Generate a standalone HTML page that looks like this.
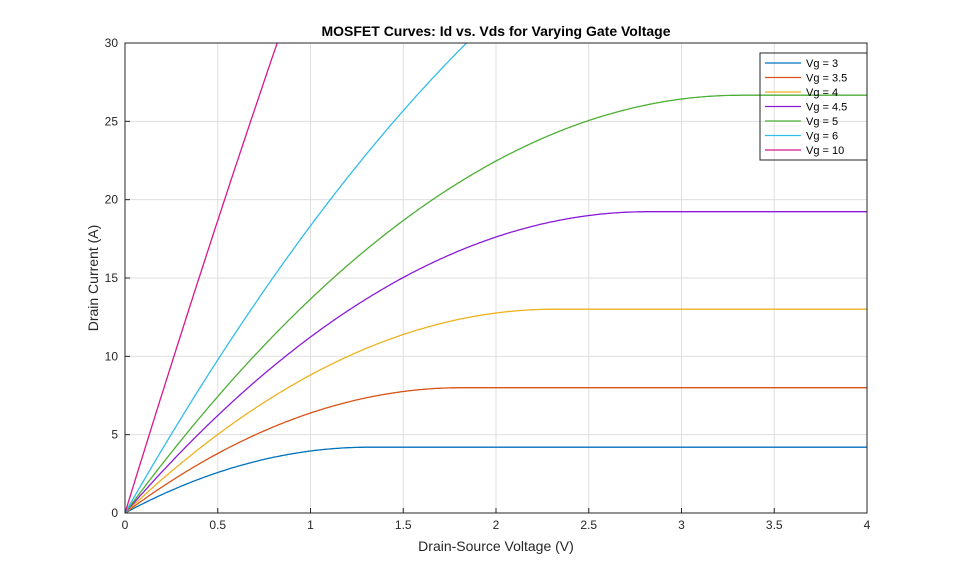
<!DOCTYPE html>
<html><head><meta charset="utf-8"><style>
body{margin:0;background:#fff;}
svg{display:block;font-family:"Liberation Sans",sans-serif;}
</style></head><body>
<svg id="s" width="959" height="577" xmlns="http://www.w3.org/2000/svg">
<rect width="959" height="577" fill="#fff"/>
<g id="grid"></g>
<defs><clipPath id="c"><rect x="125" y="43" width="742" height="470"/></clipPath></defs>
<g id="curves" clip-path="url(#c)"></g>
<rect x="125" y="43" width="742" height="470" fill="none" stroke="#262626" stroke-width="1"/>
<g id="ticks" font-size="12" fill="#262626"></g>
<text x="496" y="36" text-anchor="middle" font-size="14" font-weight="bold" fill="#000">MOSFET Curves: Id vs. Vds for Varying Gate Voltage</text>
<text x="496" y="551" text-anchor="middle" font-size="14" fill="#262626">Drain-Source Voltage (V)</text>
<text transform="translate(98,278) rotate(-90)" text-anchor="middle" font-size="14" fill="#262626">Drain Current (A)</text>
<g id="leg" font-size="11" fill="#000"></g>
</svg>
<script>
var ns="http://www.w3.org/2000/svg";
function el(p,t,a,txt){var e=document.createElementNS(ns,t);for(var k in a)e.setAttribute(k,a[k]);if(txt!==undefined)e.textContent=txt;document.getElementById(p).appendChild(e);return e;}
function X(v){return 125+v*185.5;}function Y(v){return 513-v*470/30;}
for(var i=0;i<=8;i++){var x=X(i*0.5);
 if(i>0&&i<8)el("grid","line",{x1:x,x2:x,y1:43,y2:513,stroke:"#dfdfdf"});
 el("ticks","line",{x1:x,x2:x,y1:513,y2:508,stroke:"#262626"});
 el("ticks","text",{x:x,y:529,"text-anchor":"middle"},String(i*0.5));}
for(var j=0;j<=6;j++){var y=Y(j*5);
 if(j>0&&j<6)el("grid","line",{x1:125,x2:867,y1:y,y2:y,stroke:"#dfdfdf"});
 el("ticks","line",{x1:125,x2:130,y1:y,y2:y,stroke:"#262626"});
 el("ticks","text",{x:118,y:y+4,"text-anchor":"end"},String(j*5));}
var vt=1.684,k=4.85;
var S=[[3,"#0072bd"],[3.5,"#d95319"],[4,"#edb120"],[4.5,"#8b1ad9"],[5,"#4daf35"],[6,"#32bde8"],[10,"#d9168c"]];
S.forEach(function(s,n){var vo=s[0]-vt,pts=[];
 if(s[0]==10)vo=7.95;if(s[0]==6)vo=4.28;
 for(var i=0;i<=400;i++){var v=i*0.01;var id=v<vo?k*(vo*v-v*v/2):k*vo*vo/2;pts.push(X(v).toFixed(1)+","+Y(id).toFixed(1));}
 el("curves","polyline",{points:pts.join(" "),fill:"none",stroke:s[1],"stroke-width":1.3});
 var y=63+n*14.5;
 el("leg","line",{x1:765,x2:801,y1:y,y2:y,stroke:s[1],"stroke-width":1.3});
 el("leg","text",{x:806,y:y+4},"Vg = "+s[0]);});
el("leg","rect",{x:760,y:53,width:107,height:107,fill:"none",stroke:"#262626"});
</script>
</body></html>
